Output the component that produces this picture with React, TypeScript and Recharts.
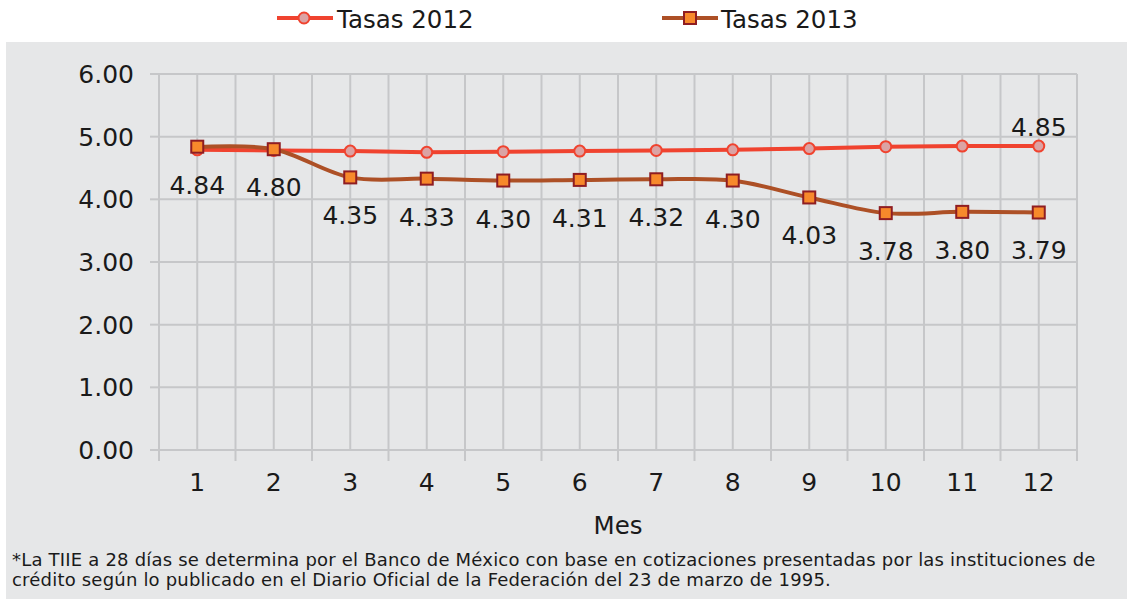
import React from "react";
import { LineChart, Line, XAxis, YAxis, CartesianGrid } from "recharts";

const months = [1, 2, 3, 4, 5, 6, 7, 8, 9, 10, 11, 12];
const tasas2012 = [4.79, 4.78, 4.77, 4.75, 4.76, 4.77, 4.78, 4.79, 4.81, 4.84, 4.85, 4.85];
const tasas2013 = [4.84, 4.8, 4.35, 4.33, 4.3, 4.31, 4.32, 4.3, 4.03, 3.78, 3.8, 3.79];
const yTicks = [0, 1, 2, 3, 4, 5, 6];
const seriesNames = ["Tasas 2012", "Tasas 2013"];
const axisTitle = "Mes";
const footnote = [
  "*La TIIE a 28 días se determina por el Banco de México con base en cotizaciones presentadas por las instituciones de",
  "crédito según lo publicado en el Diario Oficial de la Federación del 23 de marzo de 1995.",
];

const data = months.map((m, i) => ({ mes: m, t2012: tasas2012[i], t2013: tasas2013[i] }));
const xTicks: number[] = [];
for (let i = 0; i <= 24; i++) xTicks.push(0.5 + i * 0.5);

const FONT = "'DejaVu Sans', sans-serif";
const NUM = 25;
const GRID = "#c6c7c9";
const BG = "#e6e7e8";
const C2012 = "#f0432f";
const C2012FILL = "#dba3a4";
const C2013 = "#ad5026";
const C2013FILL = "#f7892b";
const C2013STROKE = "#8f1d22";
const TXT = "#1a1a1a";

// Excel-like smoothing (Catmull-Rom style bezier)
function excelSmooth(context: any) {
  let pts: number[][] = [];
  return {
    areaStart() {},
    areaEnd() {},
    lineStart() {
      pts = [];
    },
    lineEnd() {
      const n = pts.length;
      if (!n) return;
      context.moveTo(pts[0][0], pts[0][1]);
      const t = 1 / 6;
      for (let i = 0; i < n - 1; i++) {
        const p0 = pts[Math.max(0, i - 1)];
        const p1 = pts[i];
        const p2 = pts[i + 1];
        const p3 = pts[Math.min(n - 1, i + 2)];
        context.bezierCurveTo(
          p1[0] + (p2[0] - p0[0]) * t,
          p1[1] + (p2[1] - p0[1]) * t,
          p2[0] - (p3[0] - p1[0]) * t,
          p2[1] - (p3[1] - p1[1]) * t,
          p2[0],
          p2[1]
        );
      }
    },
    point(x: number, y: number) {
      pts.push([+x, +y]);
    },
  };
}

const XTick = (props: any) => {
  const { x, y, payload } = props;
  const v = payload.value;
  if (Math.abs(v - Math.round(v)) > 0.01) {
    return <line x1={x} x2={x} y1={y} y2={y + 11} stroke={GRID} strokeWidth={2} />;
  }
  return (
    <text x={x} y={y + 41} textAnchor="middle" fontFamily={FONT} fontSize={NUM} fill={TXT}>
      {v}
    </text>
  );
};

const SquareDot = (props: any) => {
  const { cx, cy, index } = props;
  return (
    <rect
      key={`sq-${index}`}
      x={cx - 6}
      y={cy - 6}
      width={12}
      height={12}
      fill={C2013FILL}
      stroke={C2013STROKE}
      strokeWidth={2}
    />
  );
};

const label2013 = (props: any) => {
  const { x, y, value, index } = props;
  return (
    <text key={`l13-${index}`} x={x} y={y + 47} textAnchor="middle" fontFamily={FONT} fontSize={NUM} fill={TXT}>
      {Number(value).toFixed(2)}
    </text>
  );
};

const label2012 = (props: any) => {
  const { x, y, value, index } = props;
  if (index !== 11) return <g key={`l12-${index}`} />;
  return (
    <text key={`l12-${index}`} x={x} y={y - 10} textAnchor="middle" fontFamily={FONT} fontSize={NUM} fill={TXT}>
      {Number(value).toFixed(2)}
    </text>
  );
};

export default function App() {
  return (
    <div style={{ position: "absolute", left: 0, top: 0, width: 1127, height: 599, background: "#ffffff", overflow: "hidden" }}>
      <div style={{ position: "absolute", left: 6, top: 42, right: 0, bottom: 0, background: BG }} />
      {/* Legend */}
      <svg style={{ position: "absolute", left: 0, top: 0 }} width={1127} height={42}>
        <line x1={277} x2={333} y1={18} y2={18} stroke={C2012} strokeWidth={4} />
        <circle cx={304} cy={18} r={5.5} fill={C2012FILL} stroke={C2012} strokeWidth={2} />
        <text x={337} y={28} fontFamily={FONT} fontSize={24.5} fill={TXT}>
          {seriesNames[0]}
        </text>
        <line x1={662} x2={718} y1={18} y2={18} stroke={C2013} strokeWidth={4} />
        <rect x={684} y={12} width={12} height={12} fill={C2013FILL} stroke={C2013STROKE} strokeWidth={2} />
        <text x={721} y={28} fontFamily={FONT} fontSize={24.5} fill={TXT}>
          {seriesNames[1]}
        </text>
      </svg>
      <div style={{ position: "absolute", left: 0, top: 0 }}>
        <LineChart width={1127} height={599} data={data} margin={{ top: 74, right: 50, bottom: 89, left: 0 }}>
          <CartesianGrid stroke={GRID} strokeWidth={2} />
          <XAxis
            dataKey="mes"
            type="number"
            domain={[0.5, 12.5]}
            ticks={xTicks}
            interval={0}
            tickLine={false}
            tickSize={0}
            tickMargin={0}
            tick={<XTick />}
            axisLine={{ stroke: GRID, strokeWidth: 2 }}
            height={60}
            allowDataOverflow
          />
          <YAxis
            domain={[0, 6]}
            ticks={yTicks}
            interval={0}
            width={159}
            tickSize={9}
            tickMargin={16}
            tickLine={{ stroke: GRID, strokeWidth: 2 }}
            axisLine={{ stroke: GRID, strokeWidth: 2 }}
            tickFormatter={(v: number) => v.toFixed(2)}
            tick={{ fontFamily: FONT, fontSize: NUM, fill: TXT }}
          />
          <Line
            dataKey="t2012"
            type="linear"
            stroke={C2012}
            strokeWidth={4}
            dot={{ r: 5.5, fill: C2012FILL, stroke: C2012, strokeWidth: 2 }}
            activeDot={false}
            isAnimationActive={false}
            label={label2012}
          />
          <Line
            dataKey="t2013"
            type={excelSmooth as any}
            stroke={C2013}
            strokeWidth={4}
            dot={<SquareDot />}
            activeDot={false}
            isAnimationActive={false}
            label={label2013}
          />
        </LineChart>
      </div>
      <div
        style={{
          position: "absolute",
          left: 0,
          width: 1236,
          top: 510,
          textAlign: "center",
          fontFamily: FONT,
          fontSize: 24.5,
          color: TXT,
          lineHeight: "32px",
        }}
      >
        {axisTitle}
      </div>
      <div
        style={{
          position: "absolute",
          left: 12,
          top: 550,
          fontFamily: FONT,
          fontSize: 18,
          letterSpacing: 0.2,
          color: TXT,
          lineHeight: "20px",
          whiteSpace: "nowrap",
        }}
      >
        <div>{footnote[0]}</div>
        <div>{footnote[1]}</div>
      </div>
    </div>
  );
}
